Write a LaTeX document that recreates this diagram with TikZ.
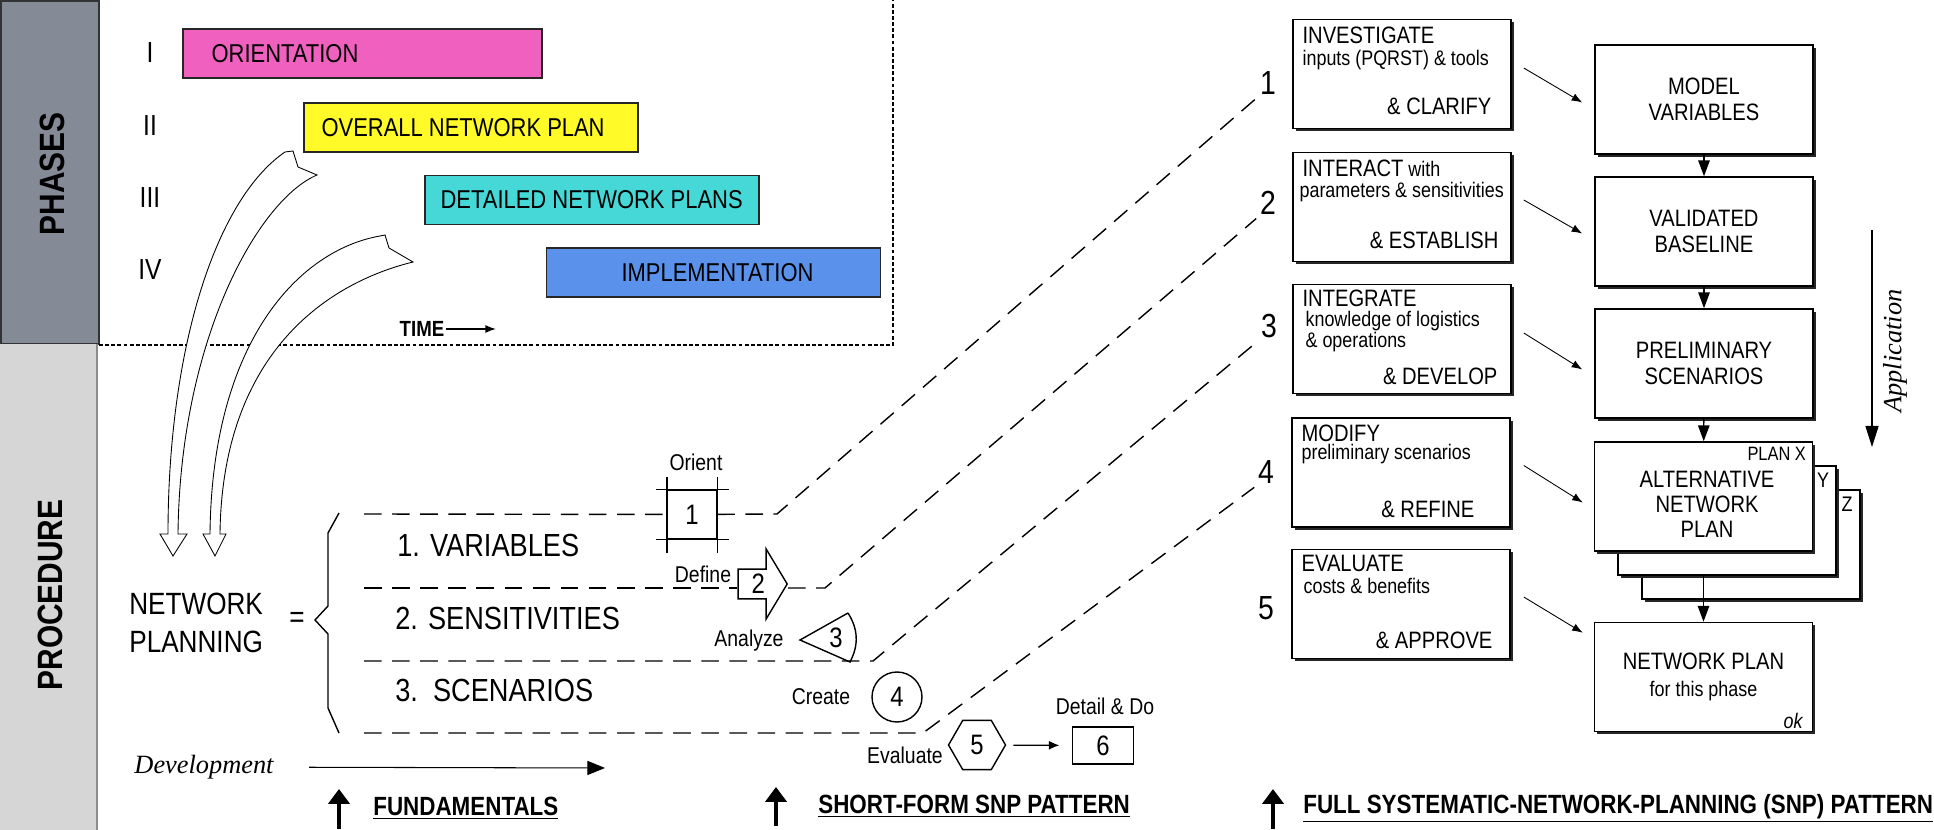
\documentclass[tikz,border=0pt]{standalone}
\usepackage{fontspec}
\setmainfont[FakeStretch=0.85]{Liberation Sans}
\newfontfamily\serifit{Liberation Serif}
\usetikzlibrary{arrows.meta,shapes.geometric,shapes.arrows,shadows}

\definecolor{orientpink}{RGB}{240,96,190}
\definecolor{overallyellow}{RGB}{255,250,40}
\definecolor{detailcyan}{RGB}{70,215,215}
\definecolor{implblue}{RGB}{90,145,235}
\definecolor{phasegrey}{RGB}{132,138,150}
\definecolor{proclight}{RGB}{214,214,214}

\begin{document}
\begin{tikzpicture}[x=0.02cm, y=-0.02cm,
		bar/.style={draw=black!85, line width=0.9pt, minimum height=0.98cm, inner sep=0pt},
		barlabel/.style={font=\fontsize{14.7}{17}\selectfont, inner sep=0pt},
		roman/.style={font=\fontsize{16.5}{19}\selectfont, inner sep=0pt},
		bigarrow/.style={draw, fill=white, line width=0.5pt},
		lane/.style={line width=0.8pt, dash pattern=on 10pt off 6pt},
		frameline/.style={line width=0.8pt, dash pattern=on 2.2pt off 1.3pt},
		lanelabel/.style={font=\fontsize{18.2}{21}\selectfont, anchor=west, inner sep=0pt},
		stage/.style={draw, line width=0.8pt, font=\fontsize{16}{18}\selectfont, inner sep=1pt},
		tag/.style={font=\fontsize{13}{15}\selectfont, inner sep=0pt},
		stepno/.style={font=\fontsize{19}{21}\selectfont, inner sep=2pt},
		stepbox/.style={draw, fill=white, line width=0.9pt, minimum width=4.36cm, minimum height=2.18cm,
			drop shadow={shadow xshift=1.6pt, shadow yshift=-1.6pt, fill=black!85, opacity=1}},
		steptitle/.style={font=\fontsize{13.5}{16}\selectfont, inner sep=0pt, anchor=base west},
		stepnote/.style={font=\fontsize{12}{14}\selectfont, inner sep=0pt, anchor=base west},
		stepend/.style={font=\fontsize{13.5}{16}\selectfont, inner sep=0pt, anchor=base east},
		planbox/.style={stepbox, align=center, font=\fontsize{13.5}{15}\selectfont},
		flow/.style={-{Triangle[width=6.5pt,length=9pt]}, line width=0.8pt},
		feed/.style={-{Latex[length=6pt,width=4.5pt]}, line width=0.5pt},
		heading/.style={font=\bfseries\fontsize{15}{17}\selectfont, anchor=west, inner sep=0pt},
		uparrow/.style={line width=2.4pt, -{Triangle[width=12pt,length=8.5pt]}}
	]

	\useasboundingbox (0,0) rectangle (1934,830);

	\fill[phasegrey] (0,0) rectangle (99,344);
	\draw[line width=1pt, black!80] (1,1) rectangle (99,344);
	\fill[proclight] (0,344) rectangle (97,830);
	\draw[line width=0.6pt, black!45] (97,344) -- (97,830);
	\node[rotate=90, font=\bfseries\fontsize{20}{22}\selectfont] (phases) at (52,174) {PHASES};
	\node[rotate=90, font=\bfseries\fontsize{20}{22}\selectfont] (procedure) at (50,595) {PROCEDURE};

	\draw[frameline] (99,345) -- (893,345) -- (893,0);

	\node[roman] (r1) at (150,53) {I};
	\node[roman] (r2) at (150,126) {II};
	\node[roman] (r3) at (150,198) {III};
	\node[roman] (r4) at (150,270) {IV};

	\node[bar, fill=orientpink, minimum width=7.18cm] (orbar) at (362.5,53.5) {};
	\node[bar, fill=overallyellow, minimum width=6.68cm] (ovbar) at (471,127.5) {};
	\node[bar, fill=detailcyan, minimum width=6.68cm] (dtbar) at (592,200) {};
	\node[bar, fill=implblue, minimum width=6.68cm] (imbar) at (713.5,272.5) {};
	\node[barlabel, anchor=west] (ortext) at ([shift={(29,0)}]orbar.west) {ORIENTATION};
	\node[barlabel, anchor=west] (ovtext) at ([shift={(18,0)}]ovbar.west) {OVERALL NETWORK PLAN};
	\node[barlabel, anchor=west] (dttext) at ([shift={(16,0)}]dtbar.west) {DETAILED NETWORK PLANS};
	\node[barlabel] (imtext) at ([shift={(4,0)}]imbar.center) {IMPLEMENTATION};

	\node[font=\bfseries\fontsize{12.5}{14}\selectfont, inner sep=1pt] (time) at (422,329) {TIME};
	\coordinate (timeend) at (496,329);
	\draw[line width=0.8pt, -{Latex[length=6pt,width=4.5pt]}] (time) -- (timeend);

	\draw[bigarrow] (285,152) -- (293,151) -- (298,167) -- (317,175)
		.. controls (258,200) and (180,340) .. (178,534) -- (187,534) -- (173,556) -- (160,534) -- (168,534)
		.. controls (168,350) and (215,200) .. (285,152) -- cycle;
	\draw[bigarrow] (380,236) -- (385,235) -- (389,248) -- (413,262)
		.. controls (320,285) and (222,360) .. (220,534) -- (226,534) -- (215,556) -- (203,534) -- (210,534)
		.. controls (212,340) and (300,250) .. (380,236) -- cycle;

	\node[font=\fontsize{17.5}{22}\selectfont, align=left, anchor=west, inner sep=0pt] (netplan) at (129,623) {NETWORK\\PLANNING};
	\node[font=\fontsize{17.5}{20}\selectfont, inner sep=0pt] (eq) at (297,620) {=};
	\draw[line width=0.8pt] (339,513) -- (328,533) -- (328,606) -- (315,620) -- (328,634) -- (328,708) -- (339,733);

	\node[lanelabel] (var) at (397,545) {1. VARIABLES};
	\node[lanelabel] (sens) at (395,618) {2. SENSITIVITIES};
	\node[lanelabel] (scen) at (395,690) {3.\ \ SCENARIOS};

	\node[stage, minimum size=0.98cm] (o1) at (692,514.5) {1};
	\draw[line width=0.8pt] ([shift={(-11,0)}]o1.north west) -- ([shift={(12,0)}]o1.north east);
	\draw[line width=0.8pt] ([shift={(-11,0)}]o1.south west) -- ([shift={(12,0)}]o1.south east);
	\draw[line width=0.8pt] ([shift={(0,-12)}]o1.north west) -- ([shift={(0,13)}]o1.south west);
	\draw[line width=0.8pt] ([shift={(0,-12)}]o1.north east) -- ([shift={(0,13)}]o1.south east);
	\node[tag] (orient) at (696,462) {Orient};

	\node[stage, single arrow, single arrow head extend=0.33cm, single arrow tip angle=118,
		minimum height=0.98cm, minimum width=1.4cm, anchor=tip] (def) at (788,584) {2};
	\node[tag] (define) at (703,574) {Define};

	\node[font=\fontsize{16}{18}\selectfont, inner sep=0pt] (an) at (836,638) {3};
	\draw[line width=0.8pt] (848,613) -- (800,640) -- (850,662) to[bend right=30] (848,613);
	\node[tag] (analyze) at (749,641) {Analyze};

	\node[stage, circle, minimum size=1cm] (cr) at (897,697) {4};
	\node[tag] (create) at (821,697) {Create};

	\node[stage, regular polygon, regular polygon sides=6, minimum size=1.14cm, inner sep=0pt] (ev) at (977,745) {5};
	\node[tag] (evaluate) at (905,755) {Evaluate};
	\node[stage, minimum width=1.22cm, minimum height=0.74cm] (dd) at (1103,745.5) {6};
	\node[tag] (detail) at (1105,706) {Detail \& Do};
	\draw[line width=0.7pt, -{Latex[length=6pt,width=5pt]}, shorten <=4pt, shorten >=7pt] (ev) -- (dd);

	\node[stepno] (n1) at (1268,83) {1};
	\node[stepno] (n2) at (1268,203) {2};
	\node[stepno] (n3) at (1269,326) {3};
	\node[stepno] (n4) at (1266,472) {4};
	\node[stepno] (n5) at (1266,608) {5};

	\coordinate (l1a) at (364,514);
	\coordinate (l1b) at (777,514);
	\coordinate (l2a) at (364,588);
	\coordinate (l2b) at (825,588);
	\coordinate (l3a) at (364,661);
	\coordinate (l3b) at (873,661);
	\coordinate (l4a) at (364,733);
	\coordinate (l4b) at (923,733);
	\draw[lane] (l1a) -- (o1);
	\draw[lane] (o1) -- (l1b) -- (n1.south west);
	\draw[lane] (l2a) -- (l2a -| def.west);
	\draw[lane] (def.tip |- l2b) -- (l2b) -- (n2.south west);
	\draw[lane] (l3a) -- (l3b) -- (n3.south west);
	\draw[lane] (l4a) -- (l4b) -- (n4.south west);

	\node[font=\serifit\itshape\fontsize{15}{17}\selectfont, inner sep=0pt] (dev) at (204,767) {Development};
	\coordinate (devend) at (605,768);
	\draw[line width=0.6pt, -{Triangle[length=10pt,width=8pt]}, shorten <=20pt] (dev) -- (devend);

	\node[stepbox] (inv) at (1402,74) {};
	\node[steptitle] (invA) at ([shift={(10,25)}]inv.north west) {INVESTIGATE};
	\node[stepnote] (invB) at ([shift={(10,47)}]inv.north west) {inputs (PQRST) \& tools};
	\node[stepend] (invC) at ([shift={(-20,-15)}]inv.south east) {\& CLARIFY};

	\node[stepbox] (intr) at (1402,207) {};
	\node[steptitle] (intrA) at ([shift={(10,25)}]intr.north west) {INTERACT{\fontsize{12}{14}\selectfont\ with}};
	\node[stepnote] (intrB) at ([shift={(7,46)}]intr.north west) {parameters \& sensitivities};
	\node[stepend] (intrC) at ([shift={(-13,-14)}]intr.south east) {\& ESTABLISH};

	\node[stepbox] (itg) at (1402,339) {};
	\node[steptitle] (itgA) at ([shift={(10,23)}]itg.north west) {INTEGRATE};
	\node[stepnote] (itgB) at ([shift={(13,43)}]itg.north west) {knowledge of logistics};
	\node[stepnote] (itgC) at ([shift={(13,64)}]itg.north west) {\& operations};
	\node[stepend] (itgD) at ([shift={(-14,-10)}]itg.south east) {\& DEVELOP};

	\node[stepbox] (mod) at (1401,472.5) {};
	\node[steptitle] (modA) at ([shift={(10,24)}]mod.north west) {MODIFY};
	\node[stepnote] (modB) at ([shift={(10,42)}]mod.north west) {preliminary scenarios};
	\node[stepend] (modC) at ([shift={(-36,-10)}]mod.south east) {\& REFINE};

	\node[stepbox] (eva) at (1401,604) {};
	\node[steptitle] (evaA) at ([shift={(10,23)}]eva.north west) {EVALUATE};
	\node[stepnote] (evaB) at ([shift={(12,45)}]eva.north west) {costs \& benefits};
	\node[stepend] (evaC) at ([shift={(-18,-11)}]eva.south east) {\& APPROVE};

	\node[planbox] (mv) at (1704,99.5) {MODEL\\VARIABLES};
	\node[planbox] (vb) at (1704,231.5) {VALIDATED\\BASELINE};
	\node[planbox] (ps) at (1704,363.5) {PRELIMINARY\\SCENARIOS};
	\node[planbox] (altz) at (1751,544.5) {};
	\node[planbox] (alty) at (1727,520.5) {};
	\node[planbox] (alt) at (1703.5,496.5) {};
	\node[font=\fontsize{13.5}{14.3}\selectfont, align=center, inner sep=0pt] (alttext) at (1707,504) {ALTERNATIVE\\NETWORK\\PLAN};
	\node[planbox] (np) at (1703.5,677) {NETWORK PLAN\\{\fontsize{12}{14}\selectfont for this phase}};
	\node[font=\fontsize{11}{13}\selectfont, inner sep=0pt, anchor=north east] (planx) at ([shift={(-7,6)}]alt.north east) {PLAN X};
	\node[font=\fontsize{12}{14}\selectfont, inner sep=0pt] (ylab) at (1823,480) {Y};
	\node[font=\fontsize{12}{14}\selectfont, inner sep=0pt] (zlab) at (1847,504) {Z};
	\node[font=\itshape\fontsize{12}{14}\selectfont, inner sep=0pt] (ok) at (1793,721) {ok};

	\draw[feed] ([shift={(12,-6)}]inv.east) -- ([shift={(-12,3)}]mv.west);
	\draw[feed] ([shift={(12,-7)}]intr.east) -- ([shift={(-12,2)}]vb.west);
	\draw[feed] ([shift={(12,-6)}]itg.east) -- ([shift={(-12,6)}]ps.west);
	\draw[feed] ([shift={(13,-7)}]mod.east) -- ([shift={(-11,6)}]alt.west);
	\draw[feed] ([shift={(13,-7)}]eva.east) -- ([shift={(-11,11)}]np.north west);

	\draw[flow] (mv) -- (vb);
	\draw[flow] (vb) -- (ps);
	\draw[flow] (ps) -- (alt);
	\draw[flow] (alt.south |- alty.south) -- (np);

	\coordinate (apptop) at (1872,230);
	\coordinate (appbot) at (1872,447);
	\draw[line width=0.6pt, -{Triangle[length=12pt,width=7.5pt]}] (apptop) -- (appbot);
	\node[rotate=90, font=\serifit\itshape\fontsize{15}{17}\selectfont, inner sep=0pt] (app) at (1895,351) {Application};

	\node[heading] (fund) at (373,808) {\underline{FUNDAMENTALS}};
	\node[heading] (short) at (818,806) {\underline{SHORT-FORM SNP PATTERN}};
	\node[heading] (full) at (1303,808) {\underline{FULL SYSTEMATIC-NETWORK-PLANNING (SNP) PATTERN}};
	\coordinate (fundup) at (339,829);
	\coordinate (fundtip) at (339,789);
	\coordinate (shortup) at (776,826);
	\coordinate (shorttip) at (776,787);
	\coordinate (fullup) at (1273,829);
	\coordinate (fulltip) at (1273,789);
	\draw[uparrow] (fundup) -- (fundtip);
	\draw[uparrow] (shortup) -- (shorttip);
	\draw[uparrow] (fullup) -- (fulltip);

\end{tikzpicture}
\end{document}
